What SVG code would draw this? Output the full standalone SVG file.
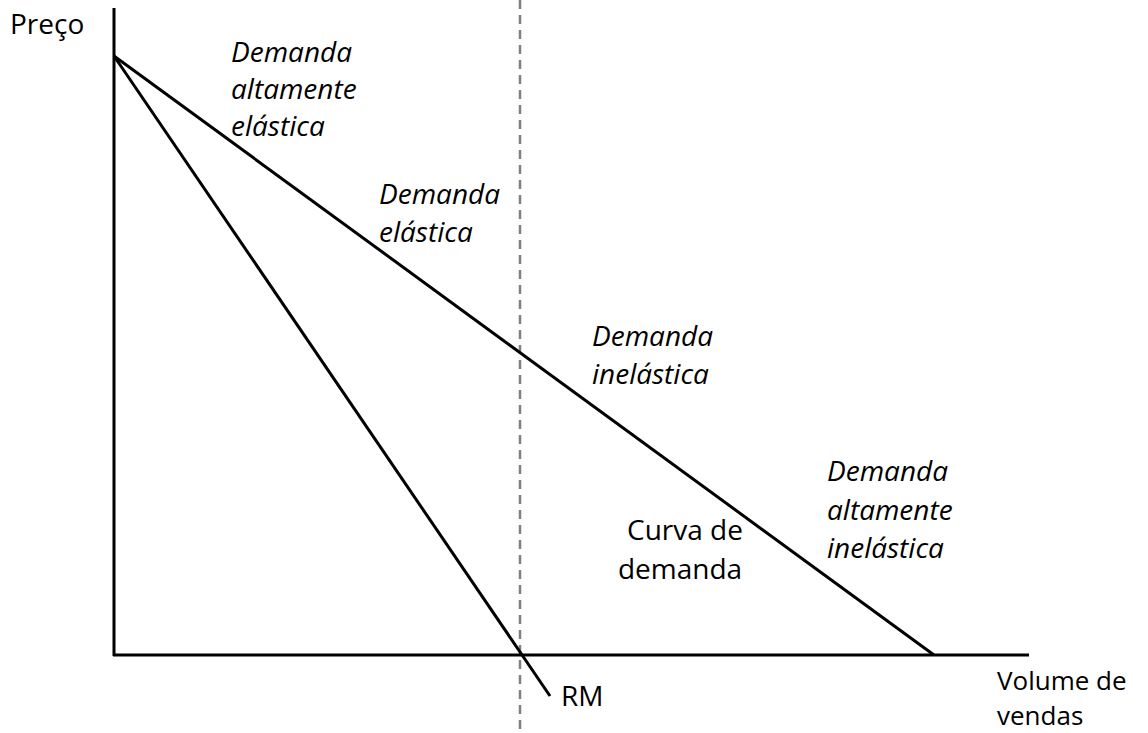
<svg xmlns="http://www.w3.org/2000/svg" width="1148" height="733" viewBox="0 0 1148 733">
<style>
.t{font-family:"Open Sans","Liberation Sans",sans-serif;font-size:28px;fill:#000}
.i{font-style:italic}
.s{font-size:26px}
.ln{stroke:#000;stroke-width:3;fill:none}
.dash{stroke:#808080;stroke-width:2.5;stroke-dasharray:9 6;fill:none}
</style>
<rect width="1148" height="733" fill="#fff"/>
<g id="connectors">
<line class="dash" x1="520" y1="0" x2="520" y2="733"/>
<line class="ln" x1="114" y1="8" x2="114" y2="656"/>
<line class="ln" x1="113" y1="655" x2="1029" y2="655"/>
<line class="ln" x1="114" y1="56" x2="934" y2="655"/>
<line class="ln" x1="114" y1="56" x2="550" y2="696"/>
</g>
<g id="preco"><text class="t" x="10" y="34">Preço</text></g>
<g id="d-alt-elastica"><text class="t i" x="231" y="62">Demanda</text><text class="t i" x="231" y="99">altamente</text><text class="t i" x="231" y="136">elástica</text></g>
<g id="d-elastica"><text class="t i" x="379" y="204">Demanda</text><text class="t i" x="379" y="242">elástica</text></g>
<g id="d-inelastica"><text class="t i" x="592" y="346">Demanda</text><text class="t i" x="592" y="384">inelástica</text></g>
<g id="d-alt-inelastica"><text class="t i" x="827" y="481">Demanda</text><text class="t i" x="827" y="520">altamente</text><text class="t i" x="827" y="558">inelástica</text></g>
<g id="curva"><text class="t" x="685" y="540" text-anchor="middle">Curva de</text><text class="t" x="680" y="579" text-anchor="middle">demanda</text></g>
<g id="rm"><text class="t" x="561" y="706">RM</text></g>
<g id="volume"><text class="t s" x="997" y="690">Volume de</text><text class="t s" x="997" y="725">vendas</text></g>
</svg>
